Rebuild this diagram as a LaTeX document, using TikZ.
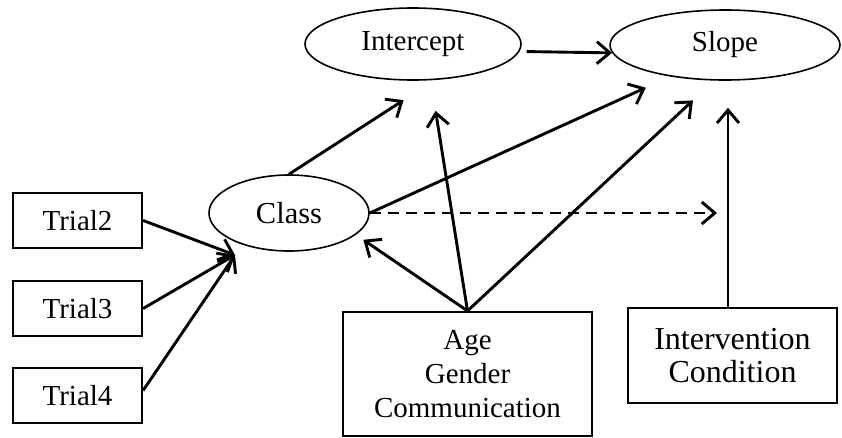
\documentclass[tikz,border=0pt]{standalone}
\usepackage{fontspec}
\setmainfont{Liberation Serif}
\usetikzlibrary{shapes.geometric,arrows.meta,calc}
\begin{document}
\begin{tikzpicture}[x=1pt,y=-1pt,
  lat/.style={ellipse,draw,line width=1.6pt,inner sep=0pt,font=\fontsize{29}{34}\selectfont},
  obs/.style={rectangle,draw,line width=2.2pt,inner sep=0pt,align=center,font=\fontsize{29}{34}\selectfont},
  arr/.style={line width=2.9pt,-{Straight Barb[length=13pt,width=22pt]}},
  dasharr/.style={arr,dash pattern=on 11pt off 7pt}]
\useasboundingbox (0,0) rectangle (842,437);
% latent variables
\node[lat,minimum width=216pt,minimum height=72pt] (intercept) at (413,44) {Intercept};
\node[lat,minimum width=230pt,minimum height=70pt] (slope) at (725,45) {Slope};
\node[lat,minimum width=160pt,minimum height=76pt,font=\fontsize{30.5}{34}\selectfont] (class) at (289,213) {Class};
% observed
\node[obs,minimum width=129pt,minimum height=55pt] (t2) at (77.5,220.5) {Trial2};
\node[obs,minimum width=129pt,minimum height=55pt] (t3) at (77.5,308.5) {Trial3};
\node[obs,minimum width=129pt,minimum height=55pt] (t4) at (77.5,395.5) {Trial4};
\node[obs,minimum width=249pt,minimum height=124pt] (age) at (467.5,374) {Age\\Gender\\Communication};
\node[obs,minimum width=209pt,minimum height=95pt,font=\fontsize{32}{33}\selectfont] (interv) at (732.5,355.5) {Intervention\\Condition};
% connectors
\coordinate (cin) at (235,255);
\draw[arr] (t2.east) -- (cin);
\draw[arr] (t3.east) -- (cin);
\draw[arr] ([yshift=5pt]t4.east) -- (cin);
\draw[arr,shorten >=37pt] (class.north) -- (intercept.-59);
\draw[arr,shorten >=27pt] (class.east) -- (slope.-150);
\draw[dasharr,shorten >=15.5pt] (class.east) -- (class.east -| interv.north);
\draw[arr,shorten <=7pt] (intercept.-4.4) -- (slope.-176.4);
\draw[arr,shorten >=31pt] (age.north) -- (intercept.-64);
\draw[arr,shorten >=9pt] (age.north) -- (class.-18.6);
\draw[arr,shorten >=29pt] (age.north) -- (slope.-107.4);
\draw[arr,shorten >=27pt] ([xshift=-4.5pt]interv.north) -- ([xshift=-4.5pt]interv.north |- slope.south);
\end{tikzpicture}
\end{document}
